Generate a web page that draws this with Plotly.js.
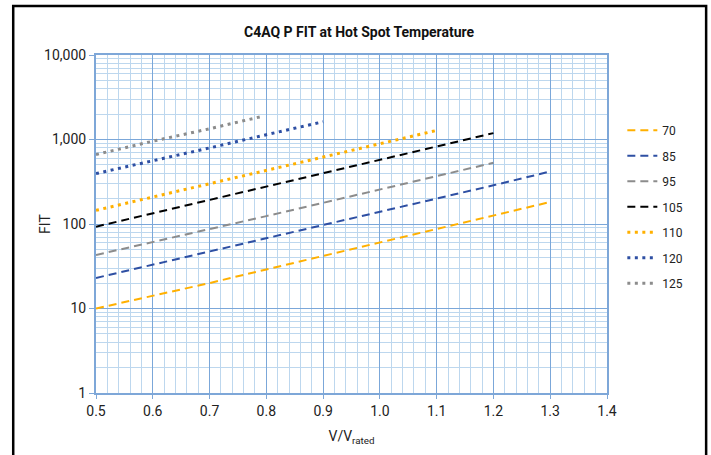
<!DOCTYPE html>
<html><head><meta charset="utf-8">
<script src="https://cdn.plot.ly/plotly-3.0.1.min.js"></script>
<style>html,body{margin:0;padding:0;background:#fff}#chart{width:711px;height:455px}</style>
</head><body><div id="chart"></div>
<script>
const seriesNames = ["70","85","95","105","110","120","125"];
const x70  = [0.5,0.6,0.7,0.8,0.9,1.0,1.1,1.2,1.3];
const y70  = [10,14,20,29,42,60,87,125,182];
const x85  = [0.5,0.6,0.7,0.8,0.9,1.0,1.1,1.2,1.3];
const y85  = [23,33,47,67,96,138,199,287,418];
const x95  = [0.5,0.6,0.7,0.8,0.9,1.0,1.1,1.2];
const y95  = [43,61,87,124,178,255,365,530];
const x105 = [0.5,0.6,0.7,0.8,0.9,1.0,1.1,1.2];
const y105 = [93,134,193,278,400,576,830,1190];
const x110 = [0.5,0.6,0.7,0.8,0.9,1.0,1.1];
const y110 = [145,209,300,432,622,896,1280];
const x120 = [0.5,0.6,0.7,0.8,0.9];
const y120 = [395,555,795,1140,1620];
const x125 = [0.5,0.6,0.7,0.79];
const y125 = [664,955,1340,1860];
const xTicks = [0.5,0.6,0.7,0.8,0.9,1.0,1.1,1.2,1.3,1.4];
const xTickText = ["0.5","0.6","0.7","0.8","0.9","1.0","1.1","1.2","1.3","1.4"];
const yTicks = [1,10,100,1000,10000];
const yTickText = ["1","10","100","1,000","10,000"];

const xs = [x70,x85,x95,x105,x110,x120,x125];
const ys = [y70,y85,y95,y105,y110,y120,y125];
const colors = ["#ffb000","#2e4fa3","#8c8c8c","#000000","#ffb000","#2e4fa3","#8c8c8c"];
const dashes = ["8px,5px","8px,5px","8px,5px","8px,5px","3px,4.5px","3px,4.5px","3px,4.5px"];
const widths = [2,2,2,2,3,3,3];

const traces = seriesNames.map((n,i)=>({
  x: xs[i], y: ys[i], name: n, type: "scatter", mode: "lines",
  legendgroup: "g"+i,
  line: {color: colors[i], dash: dashes[i], width: widths[i]}
}));

const axisColor = "#7ea7d8";
const layout = {
  width: 711, height: 455,
  margin: {l: 96, r: 104, t: 55, b: 62},
  paper_bgcolor: "#fff", plot_bgcolor: "#fff",
  font: {family: "Roboto, 'Liberation Sans', sans-serif", size: 13, color: "#222"},
  title: {text: "<b>C4AQ P FIT at Hot Spot Temperature</b>", x: 0.505, xref: "container", y: 0.93, yref: "container",
          xanchor: "center", yanchor: "middle", font: {size: 14, color: "#111", family: "Roboto, sans-serif"}},
  showlegend: true,
  legend: {x: 1.03, xanchor: "left", y: 0.82, yanchor: "top", font: {size: 12, color: "#222"},
           tracegroupgap: 6.5, bgcolor: "rgba(0,0,0,0)"},
  xaxis: {
    range: [0.5, 1.4], tickvals: xTicks, ticktext: xTickText,
    showgrid: true, gridcolor: "#7ba7d9", gridwidth: 1,
    showline: true, linecolor: axisColor, linewidth: 2, mirror: true,
    ticks: "outside", ticklen: 4, tickcolor: axisColor, tickwidth: 1,
    minor: {dtick: 0.02, showgrid: true, gridcolor: "#bdd7ee", gridwidth: 1, ticks: ""},
    zeroline: false,
    tickfont: {size: 14, color: "#222"},
    title: {text: "V/V<sub>rated</sub>", font: {size: 14, color: "#222"}, standoff: 13}
  },
  yaxis: {
    type: "log", range: [0, 4], tickvals: yTicks, ticktext: yTickText,
    showgrid: true, gridcolor: "#7ba7d9", gridwidth: 1,
    showline: true, linecolor: axisColor, linewidth: 2, mirror: true,
    ticks: "outside", ticklen: 5, tickcolor: axisColor, tickwidth: 1,
    minor: {dtick: "D1", showgrid: true, gridcolor: "#bdd7ee", gridwidth: 1, ticks: ""},
    zeroline: false,
    tickfont: {size: 14, color: "#222"}
  },
  annotations: [{text: "FIT", xref: "paper", yref: "paper", x: -0.1, y: 0.5, xanchor: "center", yanchor: "middle",
                 textangle: -90, showarrow: false, font: {size: 14, color: "#222"}}],
  shapes: [{type: "rect", xref: "paper", yref: "paper", x0: -0.162, x1: 1.194, y0: -0.25, y1: 1.145,
            line: {color: "#000", width: 2.5}, fillcolor: "rgba(0,0,0,0)"}]
};
Plotly.newPlot("chart", traces, layout, {displayModeBar: false, staticPlot: true});
</script></body></html>
